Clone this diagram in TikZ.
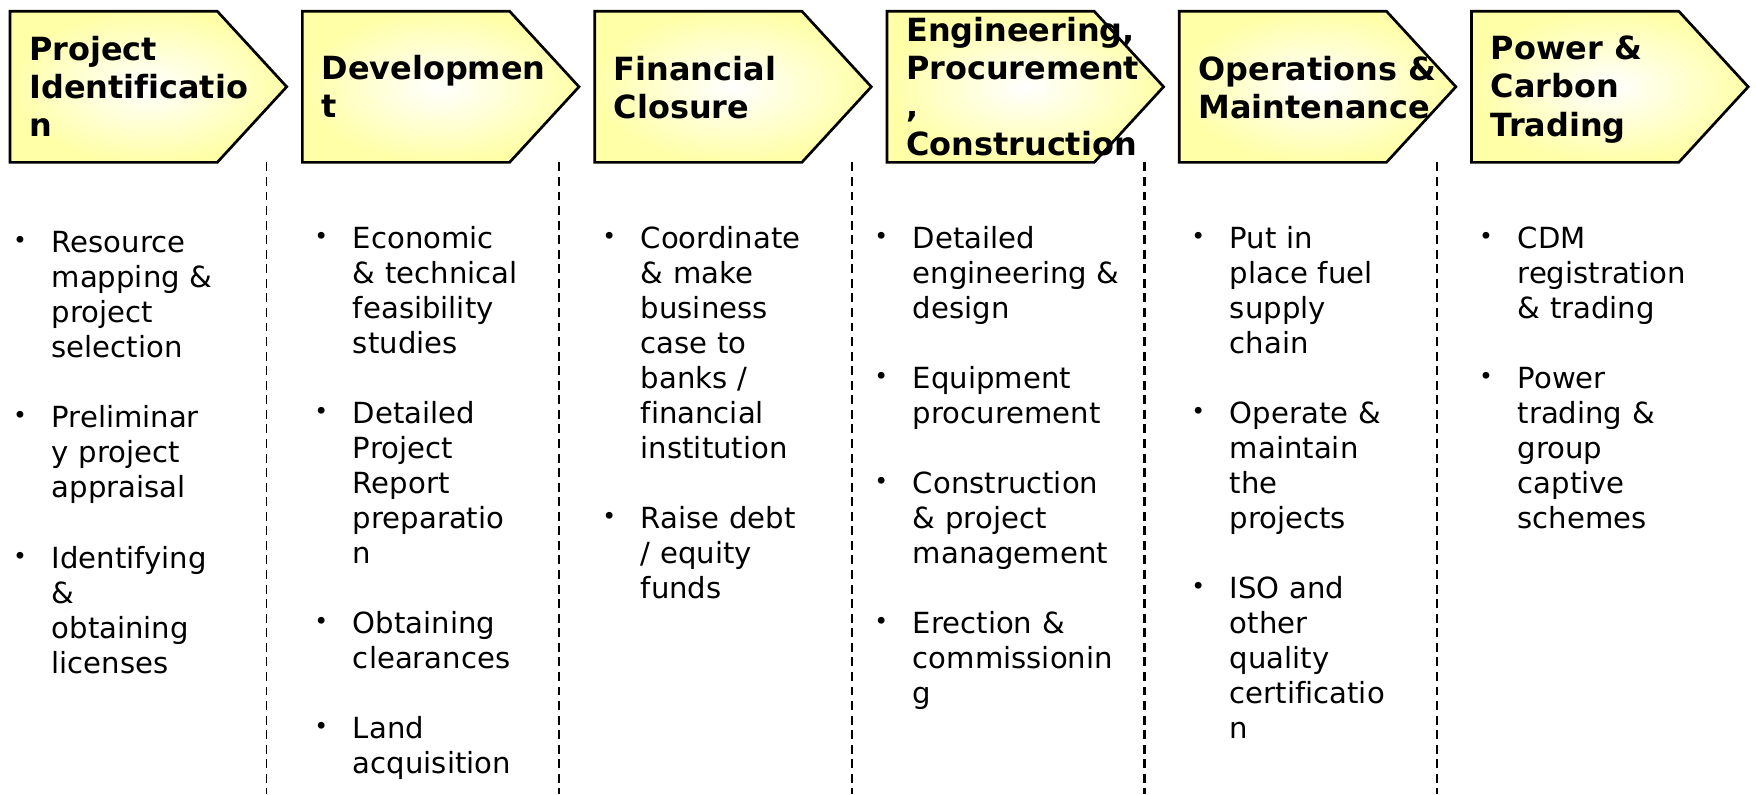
\documentclass[tikz,border=0pt]{standalone}
\usepackage{fontspec}
\setmainfont[Ligatures=NoCommon]{DejaVu Sans}
\usepackage{xcolor}
\usepackage{tikz}

\definecolor{chevyellow}{RGB}{255,255,168}

\newcommand{\taskbullet}{\raisebox{3.5pt}{\fontsize{21}{21}\selectfont\textbullet}}
\newenvironment{tasklist}{%
  \begin{list}{\taskbullet}{%
    \setlength{\leftmargin}{37pt}\setlength{\labelwidth}{16pt}%
    \setlength{\labelsep}{22pt}\setlength{\itemsep}{31.3pt}%
    \setlength{\parsep}{0pt}\setlength{\topsep}{0pt}\setlength{\partopsep}{0pt}}%
  \raggedright}{\end{list}}

\begin{document}
\begin{tikzpicture}[x=1pt, y=-1pt,
        chevron/.style={draw, line width=2.4pt, line join=miter, outer color=chevyellow, inner color=white},
        stage/.style={anchor=west, align=left, inner sep=0pt, font=\fontsize{28.5}{34}\selectfont\bfseries},
        tasks/.style={anchor=north west, text width=250pt, inner sep=0pt, font=\fontsize{26}{31.3}\selectfont},
        divider/.style={line width=1.5pt, dash pattern=on 8pt off 5pt},
        boldline/.style={line width=2.4pt, dash pattern=on 8pt off 5pt}
    ]

    \useasboundingbox (0,0) rectangle (1568,709);

    % Stage chevrons
    \path[chevron] (9,10) -- (194,10) -- (256,77.5) -- (194,145) -- (9,145) -- cycle;
    \path[chevron] (270,10) -- (455,10) -- (517,77.5) -- (455,145) -- (270,145) -- cycle;
    \path[chevron] (531,10) -- (716,10) -- (778,77.5) -- (716,145) -- (531,145) -- cycle;
    \path[chevron] (792,10) -- (977,10) -- (1039,77.5) -- (977,145) -- (792,145) -- cycle;
    \path[chevron] (1053,10) -- (1238,10) -- (1300,77.5) -- (1238,145) -- (1053,145) -- cycle;
    \path[chevron] (1314,10) -- (1499,10) -- (1561,77.5) -- (1499,145) -- (1314,145) -- cycle;

    % Stage titles
    \node[stage] (ident) at (26,77.5) {Project\\Identificatio\\n};
    \node[stage] (devel) at (287,77.5) {Developmen\\t};
    \node[stage] (finance) at (548,78.5) {Financial\\Closure};
    \node[stage] (epc) at (809,77.5) {Engineering,\\Procurement\\,\\Construction};
    \node[stage] (ops) at (1070,78.5) {Operations \&\\Maintenance};
    \node[stage] (trading) at (1331,80) {Power \&\\Carbon\\Trading};

    % Column dividers
    \draw[divider] (238,145) -- (238,709);
    \draw[divider] (499,145) -- (499,709);
    \draw[divider] (761,145) -- (761,709);
    \draw[boldline] (1022,145) -- (1022,709);
    \draw[boldline] (1283,145) -- (1283,709);

    % Activities per stage
    \node[tasks] (identtasks) at (9,194) {\begin{tasklist}
        \item Resource\\mapping \&\\project\\selection
        \item Preliminar\\y project\\appraisal
        \item Identifying\\\&\\obtaining\\licenses
    \end{tasklist}};
    \node[tasks] (develtasks) at (278,190) {\begin{tasklist}
        \item Economic\\\& technical\\feasibility\\studies
        \item Detailed\\Project\\Report\\preparatio\\n
        \item Obtaining\\clearances
        \item Land\\acquisition
    \end{tasklist}};
    \node[tasks] (financetasks) at (535,190) {\begin{tasklist}
        \item Coordinate\\\& make\\business\\case to\\banks /\\financial\\institution
        \item Raise debt\\/ equity\\funds
    \end{tasklist}};
    \node[tasks] (epctasks) at (778,190) {\begin{tasklist}
        \item Detailed\\engineering \&\\design
        \item Equipment\\procurement
        \item Construction\\\& project\\management
        \item Erection \&\\commissionin\\g
    \end{tasklist}};
    \node[tasks] (opstasks) at (1061,190) {\begin{tasklist}
        \item Put in\\place fuel\\supply\\chain
        \item Operate \&\\maintain\\the\\projects
        \item ISO and\\other\\quality\\certificatio\\n
    \end{tasklist}};
    \node[tasks] (tradingtasks) at (1318,190) {\begin{tasklist}
        \item CDM\\registration\\\& trading
        \item Power\\trading \&\\group\\captive\\schemes
    \end{tasklist}};

\end{tikzpicture}
\end{document}
